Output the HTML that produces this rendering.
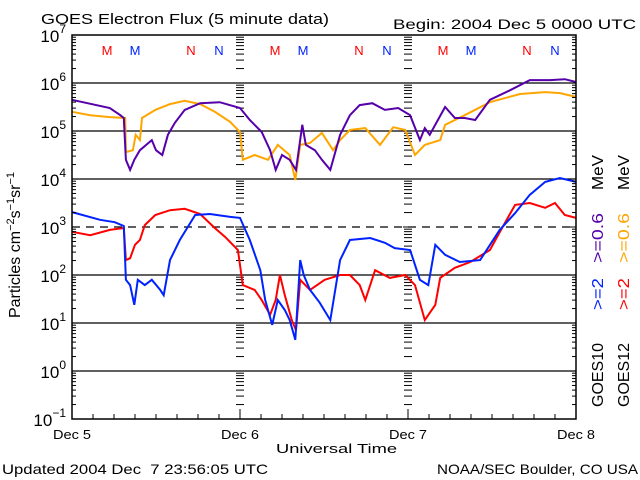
<!DOCTYPE html>
<html><head><meta charset="utf-8">
<style>
html,body{margin:0;padding:0;background:#fff;}
svg{display:block;font-family:"Liberation Sans",sans-serif;}
</style></head>
<body>
<svg id="chart" width="640" height="480" viewBox="0 0 640 480" xmlns="http://www.w3.org/2000/svg">
<rect x="0" y="0" width="640" height="480" fill="#fff"/>
<text x="41" y="24" font-size="15" textLength="288" lengthAdjust="spacingAndGlyphs">GOES Electron Flux (5 minute data)</text>
<text x="393" y="29" font-size="14" textLength="243" lengthAdjust="spacingAndGlyphs">Begin: 2004 Dec 5 0000 UTC</text>
<g id="grid"></g>
<g id="series"></g>
<g id="axes"></g>
<text transform="translate(20,245) rotate(-90)" font-size="16" text-anchor="middle">Particles cm<tspan dy="-6" font-size="11">−2</tspan><tspan dy="6">s</tspan><tspan dy="-6" font-size="11">−1</tspan><tspan dy="6">sr</tspan><tspan dy="-6" font-size="11">−1</tspan></text>
<text x="276" y="453" font-size="13" textLength="121" lengthAdjust="spacingAndGlyphs">Universal Time</text>
<text x="2" y="474" font-size="14" textLength="266" lengthAdjust="spacingAndGlyphs" xml:space="preserve">Updated 2004 Dec  7 23:56:05 UTC</text>
<text x="437" y="474" font-size="14" textLength="201" lengthAdjust="spacingAndGlyphs">NOAA/SEC Boulder, CO USA</text>
<g font-size="16">
<text transform="translate(603,407) rotate(-90)" textLength="64" lengthAdjust="spacingAndGlyphs">GOES10</text>
<text transform="translate(603,310) rotate(-90)" fill="#0022ff" textLength="32" lengthAdjust="spacingAndGlyphs">&gt;=2</text>
<text transform="translate(603,263) rotate(-90)" fill="#5500aa" textLength="50" lengthAdjust="spacingAndGlyphs">&gt;=0.6</text>
<text transform="translate(603,190) rotate(-90)" textLength="35" lengthAdjust="spacingAndGlyphs">MeV</text>
</g>
<g font-size="16">
<text transform="translate(629,407) rotate(-90)" textLength="64" lengthAdjust="spacingAndGlyphs">GOES12</text>
<text transform="translate(629,310) rotate(-90)" fill="#ff0000" textLength="32" lengthAdjust="spacingAndGlyphs">&gt;=2</text>
<text transform="translate(629,263) rotate(-90)" fill="#ffa500" textLength="50" lengthAdjust="spacingAndGlyphs">&gt;=0.6</text>
<text transform="translate(629,190) rotate(-90)" textLength="35" lengthAdjust="spacingAndGlyphs">MeV</text>
</g>
</svg>
<script>
// ---- data (hours since 2004 Dec 5 00:00 UT, log10 flux) ----
const purpleHours = [0,5.4,6.9,7.4,7.7,8.3,8.9,9.7,10.6,11.4,12,12.9,13.7,14.7,16.1,18.3,21.1,24,25.4,27.1,28.3,29.1,30,31.1,32,32.9,33.4,34.7,35.7,36.9,38.3,39.7,41.1,42.9,44.7,46.6,48.3,49.7,50.4,51.1,53.3,54.7,56.1,57.6,59.7,62.6,65.4,68.3,70.4,72];
const purpleLog = [5.65,5.48,5.33,5.27,4.40,4.19,4.40,4.60,4.71,4.81,4.60,4.50,4.92,5.17,5.44,5.58,5.60,5.48,5.23,4.98,4.60,4.19,4.50,4.40,4.19,5.13,4.71,4.60,4.40,4.19,4.92,5.33,5.54,5.58,5.44,5.48,5.33,4.81,5.06,4.92,5.50,5.27,5.27,5.23,5.65,5.85,6.06,6.06,6.08,6.02];
const orangeHours = [0,2.6,5.4,7.6,7.7,8.7,9.1,9.7,10,11.9,14,16.1,18.3,20.4,22.6,24,24.4,26.1,28,29.4,31.1,31.9,32.6,34,35.4,35.7,37.3,38.3,39.7,41.9,44,45.9,47.6,49,50.4,52.6,53.3,56.1,59.7,64,67.6,69.7,72];
const orangeLog = [5.40,5.33,5.29,5.27,4.56,4.60,4.92,4.81,5.27,5.44,5.56,5.63,5.56,5.40,5.19,4.98,4.40,4.50,4.40,4.71,4.50,3.98,4.71,4.75,4.92,4.96,4.60,4.81,5.02,5.06,4.71,5.08,5.02,4.50,4.71,4.81,5.13,5.33,5.60,5.77,5.81,5.79,5.71];
const blueHours = [0,4,6.1,7.4,7.7,8.3,8.9,9.4,10.4,11.4,12.6,13.1,14,15.4,17.6,19.7,22.6,24,25.4,26.9,27.6,28.6,29.4,30.4,31.1,31.9,32.6,33.1,34,35.4,36.9,38.3,39.7,42.6,44.7,46.1,48.3,49.7,50.9,51.9,53.3,55.4,58.3,61.1,63.3,65.4,67.6,69.7,72];
const blueLog = [3.31,3.15,3.10,3.02,1.90,1.79,1.38,1.90,1.79,1.90,1.69,1.58,2.31,2.73,3.25,3.27,3.21,3.19,2.73,2.10,1.48,0.96,1.48,1.27,1.06,0.65,2.31,2.00,1.69,1.42,1.06,2.31,2.73,2.77,2.67,2.56,2.52,1.90,1.79,2.63,2.42,2.27,2.31,2.94,3.29,3.67,3.94,4.02,3.94];
const redHours = [0,2.6,5.4,7.4,7.7,8.3,9,9.7,10.4,11.9,14,16.1,18.3,20.4,21.9,23.7,24.4,26.1,27.1,28.3,29.1,29.7,30.4,31.4,32,32.6,34,36.1,38.3,39.7,41.1,41.9,43.3,45.4,47.6,49,50.4,51.9,52.6,54.7,56.9,59.7,61.9,63.3,65.4,67.6,69,70.4,72];
const redLog = [2.90,2.83,2.94,2.98,2.31,2.35,2.63,2.73,3.04,3.25,3.35,3.38,3.27,2.98,2.79,2.52,1.79,1.69,1.48,1.17,1.48,2.00,1.58,1.06,0.85,1.90,1.69,1.90,2.00,2.00,1.79,1.48,2.10,1.94,2.00,1.79,1.06,1.38,1.94,2.15,2.27,2.52,3.10,3.46,3.50,3.40,3.50,3.25,3.19];
const yTickExps = [7,6,5,4,3,2,1,0,-1];
const xTickLabels = ["Dec 5","Dec 6","Dec 7","Dec 8"];
const markerLabels = ["M","M","N","N"];
const markerHours = [5,9,17,21];

// ---- axis functions ----
const X0=72,X1=576,Y0=35,Y1=419;
const xs = h => X0 + (X1-X0)*h/72;
const ys = l => Y1 - (Y1-Y0)*(l+1)/8;
const NS="http://www.w3.org/2000/svg";
function mk(tag, attrs, parent){const e=document.createElementNS(NS,tag);for(const k in attrs)e.setAttribute(k,attrs[k]);parent.appendChild(e);return e;}
const grid=document.getElementById('grid'), axes=document.getElementById('axes'), ser=document.getElementById('series');

yTickExps.forEach(e=>{
  if(e===7||e===-1) return;
  const l=mk('line',{x1:X0,x2:X1,y1:ys(e),y2:ys(e),stroke:'#000','stroke-width':1.3},grid);
  if(e===3) l.setAttribute('stroke-dasharray','8,6');
  
  
});
for(let e=-1;e<7;e++){
  for(let m=2;m<=9;m++){
    const y=ys(e+Math.log10(m));
    [240,408].forEach(x=>mk('line',{x1:x-4,x2:x+4,y1:y,y2:y,stroke:'#000','stroke-width':1},grid));
    mk('line',{x1:X0,x2:X0+4,y1:y,y2:y,stroke:'#000','stroke-width':1},axes);
    mk('line',{x1:X1-4,x2:X1,y1:y,y2:y,stroke:'#000','stroke-width':1},axes);
  }
}
yTickExps.forEach(e=>{
  [240,408].forEach(x=>mk('line',{x1:x-5,x2:x+5,y1:ys(e),y2:ys(e),stroke:'#000','stroke-width':1},grid));
  mk('line',{x1:X0,x2:X0+8,y1:ys(e),y2:ys(e),stroke:'#000','stroke-width':1},axes);
  mk('line',{x1:X1-8,x2:X1,y1:ys(e),y2:ys(e),stroke:'#000','stroke-width':1},axes);
  const t=mk('text',{x:X0-6,y:ys(e)+7,'font-size':17,'text-anchor':'end'},axes);
  
  
  t.textContent='10';
  const s=mk('tspan',{dy:-9,'font-size':12},t); s.textContent=(e<0?'−':'')+Math.abs(e);
});
const fr=mk('rect',{x:X0,y:Y0,width:X1-X0,height:Y1-Y0,fill:'none',stroke:'#000','stroke-width':1.5},axes);


for(let h=3;h<72;h+=3){
  const len=(h%24===0)?10:5;
  mk('line',{x1:xs(h),x2:xs(h),y1:Y1,y2:Y1-len,stroke:'#000','stroke-width':1},axes);
}
xTickLabels.forEach((lab,i)=>{
  const t=mk('text',{x:xs(i*24)-19,y:439,'font-size':13,textLength:38,lengthAdjust:'spacingAndGlyphs'},axes);
  
  
  t.textContent=lab;
});
for(let d=0;d<3;d++){
  markerHours.forEach((h,i)=>{
    const t=mk('text',{x:xs(d*24+h),y:55,'font-size':13,'text-anchor':'middle',fill:(i%2===0)?'#ff0000':'#0022ff'},axes);
    
    
    t.textContent=markerLabels[i];
  });
}
function line(hours,vals,color,name){
  const pts=hours.map((h,i)=>xs(h).toFixed(1)+','+ys(vals[i]).toFixed(1)).join(' ');
  const p=mk('polyline',{points:pts,fill:'none',stroke:color,'stroke-width':2,'stroke-linejoin':'miter'},ser);
  
  
}
line(orangeHours,orangeLog,'#ffa500','goes12-0.6mev-line');
line(purpleHours,purpleLog,'#5500aa','goes10-0.6mev-line');
line(redHours,redLog,'#ff0000','goes12-2mev-line');
line(blueHours,blueLog,'#0022ff','goes10-2mev-line');
</script>
</body></html>
